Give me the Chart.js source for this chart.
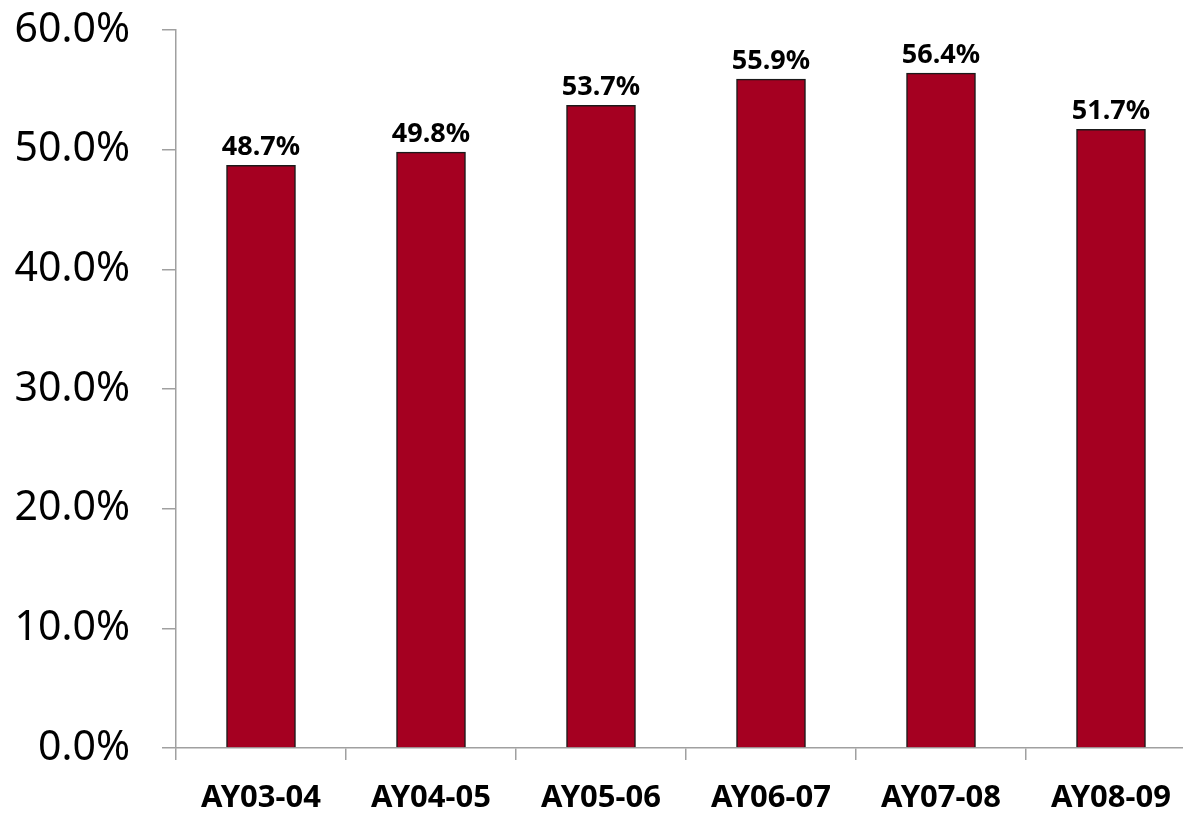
<!DOCTYPE html>
<html>
<head>
<meta charset="utf-8">
<script src="https://cdn.jsdelivr.net/npm/chart.js@4"></script>
<style>
  html, body { margin: 0; padding: 0; background: #FFFFFF; overflow: hidden; }
  #wrap { position: relative; width: 1200px; height: 815px; }
</style>
</head>
<body>
<div id="wrap"><canvas id="chart"></canvas></div>
<script>
const categories = ["AY03-04", "AY04-05", "AY05-06", "AY06-07", "AY07-08", "AY08-09"];
const rates = [48.7, 49.8, 53.7, 55.9, 56.4, 51.7];
const yTicks = [0, 10, 20, 30, 40, 50, 60];

const barColor = "#A50021";
const axisColor = "#A0A0A0";
const textColor = "#000000";

Chart.defaults.font.family = '"Noto Sans", "DejaVu Sans", sans-serif';
Chart.defaults.color = textColor;

const valueLabelsPlugin = {
  id: "valueLabels",
  afterDatasetsDraw(chart) {
    const meta = chart.getDatasetMeta(0);
    const dataset = chart.data.datasets[0];
    const { ctx } = chart;

    ctx.save();
    ctx.fillStyle = textColor;
    ctx.font = 'bold 27px "Noto Sans", sans-serif';
    ctx.textAlign = "center";
    ctx.textBaseline = "alphabetic";

    meta.data.forEach((bar, index) => {
      ctx.fillText(`${dataset.data[index].toFixed(1)}%`, bar.x, bar.y - 10);
    });

    ctx.restore();
  },
};

new Chart(document.getElementById("chart"), {
  type: "bar",
  plugins: [valueLabelsPlugin],
  data: {
    labels: categories,
    datasets: [
      {
        data: rates,
        backgroundColor: barColor,
        borderColor: "#1A1A1A",
        borderWidth: 1.5,
        borderSkipped: "bottom",
        barThickness: 69,
      },
    ],
  },
  options: {
    responsive: true,
    maintainAspectRatio: false,
    animation: false,
    layout: {
      padding: { top: 30, right: 4, bottom: 0, left: 0 },
    },
    plugins: {
      legend: { display: false },
      tooltip: { enabled: false },
    },
    scales: {
      x: {
        offset: true,
        grid: {
          offset: true,
          drawOnChartArea: false,
          drawTicks: true,
          tickLength: 12,
          color: axisColor,
          lineWidth: 1.5,
        },
        border: { display: true, color: axisColor, width: 1.5 },
        ticks: {
          color: textColor,
          font: { size: 31, weight: "bold" },
          padding: 20,
          maxRotation: 0,
        },
        afterFit(scale) {
          scale.height = 67;
          scale.paddingLeft = 0;
          scale.paddingRight = 0;
        },
      },
      y: {
        min: 0,
        max: 60,
        afterBuildTicks(scale) {
          scale.ticks = yTicks.map((value) => ({ value }));
        },
        grid: {
          drawOnChartArea: false,
          drawTicks: true,
          tickLength: 14,
          color: axisColor,
          lineWidth: 1.5,
        },
        border: { display: true, color: axisColor, width: 1.5 },
        ticks: {
          color: textColor,
          font: { size: 41 },
          padding: 32,
          callback(value) {
            return `${Number(value).toFixed(1)}%`;
          },
        },
        afterFit(scale) {
          scale.width = 176;
          scale.paddingTop = 0;
          scale.paddingBottom = 0;
        },
      },
    },
  },
});
</script>
</body>
</html>
